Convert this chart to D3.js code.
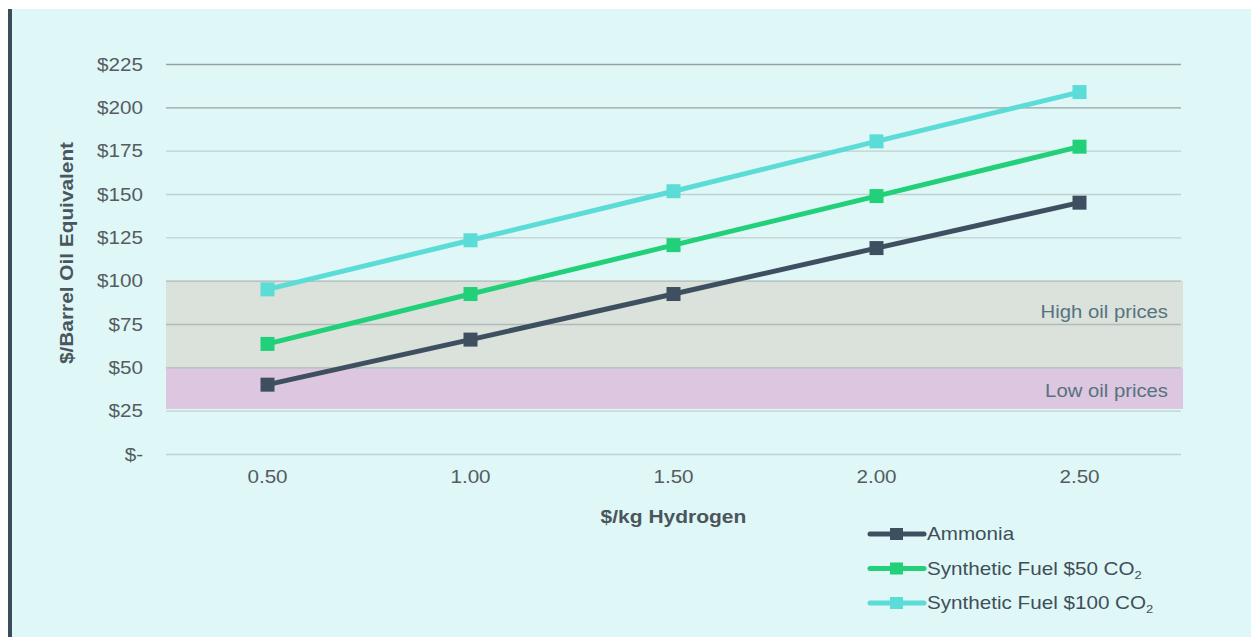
<!DOCTYPE html>
<html>
<head>
<meta charset="utf-8">
<script src="https://cdn.jsdelivr.net/npm/d3@7"></script>
<style>
  html, body { margin: 0; padding: 0; background: #ffffff; }
  svg { display: block; font-family: "Liberation Sans", Arial, sans-serif; }
</style>
</head>
<body>
<svg id="chart" width="1251" height="637"></svg>
<script>
// Hydrogen cost vs. oil-equivalent cost
const hydrogenPrices = ["0.50", "1.00", "1.50", "2.00", "2.50"];
const ammonia      = [40, 66, 92.3, 118.8, 145];
const synFuel50    = [63.5, 92.3, 120.5, 148.8, 177.3];
const synFuel100   = [95, 123.3, 151.6, 180.4, 208.8];
const yTicks = [0, 25, 50, 75, 100, 125, 150, 175, 200, 225];
const bands = [
  { label: "High oil prices", from: 49.5, to: 100 },
  { label: "Low oil prices",  from: 26,   to: 49.5 }
];
const series = [
  { name: "Ammonia", values: ammonia, color: "#3e5060" },
  { name: "Synthetic Fuel $50 CO", sub: "2", values: synFuel50, color: "#22d07a" },
  { name: "Synthetic Fuel $100 CO", sub: "2", values: synFuel100, color: "#5cdcd6" }
];

const svg = d3.select("#chart");
const W = 1251, H = 637;
const WIDE = 1.18; // horizontal stretch of the typeface

// widen text horizontally around its anchor point
function stretch(sel, k) {
  sel.each(function() {
    const t = d3.select(this);
    const x0 = +t.attr("x") || 0;
    t.attr("transform", `translate(${x0},0) scale(${k},1) translate(${-x0},0)`);
  });
}

// panel background and left accent bar
svg.append("rect").attr("x", 8).attr("y", 9).attr("width", W - 8).attr("height", H - 9).attr("fill", "#dff7f7");
svg.append("rect").attr("x", 8).attr("y", 9).attr("width", 4).attr("height", H - 9).attr("fill", "#3b4d5a");

const plot = { left: 166, right: 1181, top: 64, bottom: 454 };
const x = d3.scaleBand().domain(hydrogenPrices).range([plot.left, plot.right]);
const y = d3.scaleLinear().domain([0, 225]).range([plot.bottom, plot.top]);

const bandColors = { "High oil prices": "#dbe1db", "Low oil prices": "#dcc6e0" };

// price bands
svg.append("g").selectAll("rect").data(bands).join("rect")
  .attr("x", plot.left)
  .attr("width", plot.right - plot.left + 2)
  .attr("y", d => y(d.to))
  .attr("height", d => y(d.from) - y(d.to))
  .attr("fill", d => bandColors[d.label]);

// horizontal gridlines
const yAxis = d3.axisLeft(y).tickValues(yTicks).tickSize(-(plot.right - plot.left)).tickPadding(23)
  .tickFormat(d => d === 0 ? "$-" : "$" + d);
const gy = svg.append("g").attr("transform", `translate(${plot.left},0)`).call(yAxis);
gy.select(".domain").remove();
gy.selectAll(".tick line")
  .attr("stroke", d => d >= 200 ? "#97a3a3" : (d >= 50 && d <= 100 ? "#aebbb8" : "#bfd1d1"))
  .attr("stroke-width", 1.3);
gy.selectAll(".tick text")
  .attr("fill", "#555c60").attr("font-size", 17.5).attr("dy", "0.35em")
  .call(stretch, WIDE);

// band labels
svg.append("g").selectAll("text").data(bands).join("text")
  .attr("x", plot.right - 13)
  .attr("y", d => (y(d.from) + y(d.to)) / 2 + 6 + (d.label.startsWith("High") ? -12 : 2))
  .attr("text-anchor", "end")
  .attr("font-size", 17.5)
  .attr("fill", "#55737f")
  .text(d => d.label)
  .call(stretch, 1.16);

// x axis labels
const xAxis = d3.axisBottom(x).tickSize(0).tickPadding(17);
const gx = svg.append("g").attr("transform", `translate(0,${plot.bottom})`).call(xAxis);
gx.select(".domain").remove();
gx.selectAll(".tick text").attr("fill", "#555c60").attr("font-size", 17.5).call(stretch, WIDE);

// axis titles
svg.append("text")
  .attr("x", (plot.left + plot.right) / 2).attr("y", 523)
  .attr("text-anchor", "middle").attr("font-size", 17.5).attr("font-weight", "bold")
  .attr("fill", "#4a555c").text("$/kg Hydrogen")
  .call(stretch, 1.2);
svg.append("text")
  .attr("transform", `translate(73,253) rotate(-90) scale(1.19,1)`)
  .attr("text-anchor", "middle").attr("font-size", 17.5).attr("font-weight", "bold")
  .attr("fill", "#4a555c").text("$/Barrel Oil Equivalent");

// series lines and markers
const line = d3.line().x((d, i) => x(hydrogenPrices[i]) + x.bandwidth() / 2).y(d => y(d));
const gs = svg.append("g").selectAll("g").data(series).join("g");
gs.append("path")
  .attr("d", d => line(d.values))
  .attr("fill", "none").attr("stroke", d => d.color).attr("stroke-width", 5);
gs.each(function(s) {
  d3.select(this).selectAll("rect").data(s.values).join("rect")
    .attr("x", (d, i) => x(hydrogenPrices[i]) + x.bandwidth() / 2 - 7)
    .attr("y", d => y(d) - 7)
    .attr("width", 14).attr("height", 14)
    .attr("fill", s.color);
});

// legend
const lg = svg.append("g").selectAll("g").data(series).join("g")
  .attr("transform", (d, i) => `translate(870,${534 + i * 34.5})`);
lg.append("line").attr("x1", 0).attr("x2", 54).attr("y1", 0).attr("y2", 0)
  .attr("stroke", d => d.color).attr("stroke-width", 5).attr("stroke-linecap", "round");
lg.append("rect").attr("x", 20).attr("y", -6).attr("width", 13).attr("height", 12)
  .attr("fill", d => d.color);
const lt = lg.append("text").attr("x", 57).attr("y", 6).attr("font-size", 17.5).attr("fill", "#3f4f5a");
lt.append("tspan").text(d => d.name);
lt.filter(d => d.sub).append("tspan").attr("font-size", 11).attr("dy", 4).text(d => d.sub);
lt.call(stretch, WIDE);
</script>
</body>
</html>
